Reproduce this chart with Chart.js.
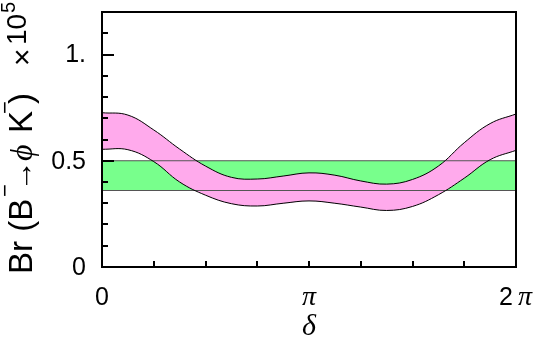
<!DOCTYPE html>
<html lang="en">
<head>
    <meta charset="UTF-8">
    <title>Br(B- -> phi K-) vs delta</title>
    <style>
        body { margin: 0; padding: 0; background: #fff; }
        .chart-box { width: 536px; height: 347px; position: relative; }
    </style>
</head>
<body>
    <div class="chart-box"><canvas id="brChart"></canvas></div>

    <script src="https://cdn.jsdelivr.net/npm/chart.js"></script>
    <script>
        // delta in units of pi
        const deltaOverPi = [0, 0.125, 0.25, 0.375, 0.5, 0.625, 0.75, 0.875, 1,
                             1.125, 1.25, 1.375, 1.5, 1.625, 1.75, 1.875, 2];
        // theory band (x 10^-5)
        const bandUpper = [0.726, 0.715, 0.645, 0.555, 0.475, 0.422, 0.414, 0.428, 0.443,
                           0.432, 0.405, 0.390, 0.412, 0.475, 0.585, 0.675, 0.720];
        const bandLower = [0.554, 0.552, 0.496, 0.400, 0.338, 0.298, 0.287, 0.300, 0.311,
                           0.300, 0.282, 0.266, 0.285, 0.340, 0.418, 0.505, 0.549];
        // measured range
        const measRange = [0, 2];
        const measHigh = [0.50, 0.50];
        const measLow = [0.36, 0.36];

        const yMajorTicks = [0, 0.5, 1];
        const yTickLabels = ['0', '0.5', '1.'];
        const xMajorTicks = [0, 1, 2];

        const toPoints = (xs, ys) => xs.map((x, i) => ({ x: x, y: ys[i] }));

        const SANS = '"Liberation Sans", Arial, sans-serif';
        const SERIF = '"Liberation Serif", "Times New Roman", serif';

        // draws a run of text pieces (normal / italic / superscript)
        function drawRich(ctx, pieces, x, y) {
            pieces.forEach(p => {
                ctx.font = p.font;
                ctx.fillText(p.text, x, y - (p.rise || 0));
                x += ctx.measureText(p.text).width + (p.gap || 0);
            });
        }

        // y title pieces, placed by distance along the (rotated) baseline
        const yTitlePieces = [
            { text: 'Br (B', font: '33px ' + SANS, at: 0, rise: 0 },
            { text: '\u2212', font: '22px ' + SANS, at: 77, rise: 20 },
            { text: '\u2192', font: '31px ' + SANS, at: 83, rise: 0 },
            { text: '\u03d5', font: 'italic 32px ' + SERIF, at: 113, rise: 0 },
            { text: 'K', font: '33px ' + SANS, at: 141, rise: 0 },
            { text: '\u2212', font: '22px ' + SANS, at: 160, rise: 20 },
            { text: ')', font: '33px ' + SANS, at: 170, rise: 0 },
            { text: '\u00d7', font: '30px ' + SANS, at: 208, rise: 0 },
            { text: '10', font: '28px ' + SANS, at: 229, rise: 6 },
            { text: '5', font: '20px ' + SANS, at: 261, rise: 17 }
        ];

        const axesPlugin = {
            id: 'axesPlugin',
            afterDraw(chart) {
                const ctx = chart.ctx;
                const xs = chart.scales.x, ys = chart.scales.y;
                const area = chart.chartArea;
                ctx.save();
                ctx.strokeStyle = '#000';
                ctx.fillStyle = '#000';

                // inward ticks, left axis
                ctx.lineWidth = 2;
                for (let v = 0; v <= 1.2001; v += 0.1) {
                    const py = Math.round(ys.getPixelForValue(v));
                    const major = yMajorTicks.some(t => Math.abs(t - v) < 1e-6);
                    ctx.beginPath();
                    ctx.moveTo(area.left, py);
                    ctx.lineTo(area.left + (major ? 12 : 6), py);
                    ctx.stroke();
                }
                // inward ticks, bottom axis
                for (let v = 0; v <= 2.0001; v += 0.25) {
                    const px = Math.round(xs.getPixelForValue(v));
                    ctx.beginPath();
                    ctx.moveTo(px, area.bottom);
                    ctx.lineTo(px, area.bottom - 6);
                    ctx.stroke();
                }
                // frame
                ctx.strokeRect(area.left, area.top, area.right - area.left, area.bottom - area.top);

                // y tick labels
                ctx.font = '25px ' + SANS;
                ctx.textAlign = 'right';
                ctx.textBaseline = 'middle';
                yMajorTicks.forEach((v, i) => {
                    ctx.fillText(yTickLabels[i], area.left - 16, ys.getPixelForValue(v) + 1);
                });

                // x tick labels
                ctx.textBaseline = 'alphabetic';
                ctx.textAlign = 'center';
                const base = area.bottom + 38;
                ctx.font = '25px ' + SANS;
                ctx.fillText('0', xs.getPixelForValue(xMajorTicks[0]), base);
                ctx.font = 'italic 28px ' + SERIF;
                ctx.fillText('\u03c0', xs.getPixelForValue(xMajorTicks[1]), base);
                ctx.textAlign = 'left';
                drawRich(ctx, [
                    { text: '2', font: '25px ' + SANS, gap: 5 },
                    { text: '\u03c0', font: 'italic 28px ' + SERIF }
                ], xs.getPixelForValue(xMajorTicks[2]) - 17, base);

                // x title
                ctx.textAlign = 'center';
                ctx.font = 'italic 30px ' + SERIF;
                ctx.fillText('\u03b4', (area.left + area.right) / 2, area.bottom + 68);

                // y title (rotated)
                ctx.translate(32, area.bottom + 7);
                ctx.rotate(-Math.PI / 2);
                ctx.textAlign = 'left';
                yTitlePieces.forEach(p => {
                    ctx.font = p.font;
                    ctx.fillText(p.text, p.at, -p.rise);
                });
                ctx.restore();
            }
        };

        const ctx = document.getElementById('brChart').getContext('2d');
        new Chart(ctx, {
            type: 'line',
            data: {
                datasets: [
                    {
                        label: 'upper',
                        data: toPoints(deltaOverPi, bandUpper),
                        borderColor: '#000',
                        borderWidth: 1,
                        backgroundColor: '#ffaaec',
                        fill: '+1',
                        tension: 0.4,
                        pointRadius: 0
                    },
                    {
                        label: 'lower',
                        data: toPoints(deltaOverPi, bandLower),
                        borderColor: '#000',
                        borderWidth: 1,
                        fill: false,
                        tension: 0.4,
                        pointRadius: 0
                    },
                    {
                        label: 'meas high',
                        data: toPoints(measRange, measHigh),
                        borderColor: '#555',
                        borderWidth: 1,
                        backgroundColor: '#78ff8c',
                        fill: '+1',
                        pointRadius: 0
                    },
                    {
                        label: 'meas low',
                        data: toPoints(measRange, measLow),
                        borderColor: '#555',
                        borderWidth: 1,
                        fill: false,
                        pointRadius: 0
                    }
                ]
            },
            options: {
                responsive: true,
                maintainAspectRatio: false,
                animation: false,
                layout: { padding: { left: 102, right: 20, top: 12, bottom: 80 } },
                scales: {
                    x: { type: 'linear', min: 0, max: 2, display: false },
                    y: { min: 0, max: 1.2, display: false }
                },
                plugins: {
                    legend: { display: false },
                    tooltip: { enabled: false },
                    filler: { drawTime: 'beforeDatasetsDraw' }
                }
            },
            plugins: [axesPlugin]
        });
    </script>
</body>
</html>
